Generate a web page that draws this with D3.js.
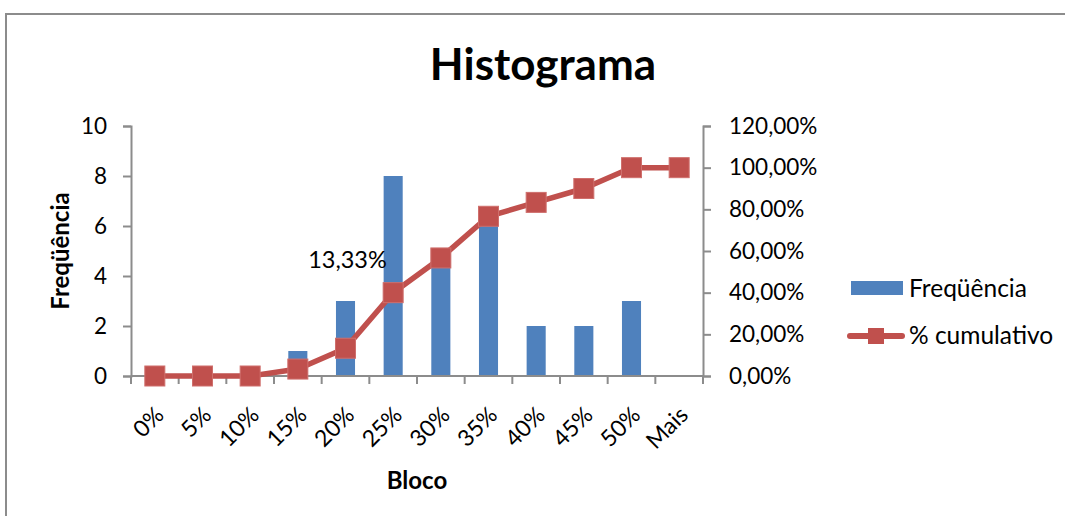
<!DOCTYPE html>
<html>
<head>
<meta charset="utf-8">
<script src="https://cdn.jsdelivr.net/npm/d3@7"></script>
<style>
  html, body { margin: 0; padding: 0; background: #fff; }
  svg { display: block; }
  text { font-family: Lato, "Open Sans", sans-serif; fill: #000; }
</style>
</head>
<body>
<svg id="chart" width="1065" height="516"></svg>
<script>
// Histogram data: bins, frequency per bin, cumulative percentage
const categories = ["0%", "5%", "10%", "15%", "20%", "25%", "30%", "35%", "40%", "45%", "50%", "Mais"];
const frequencies = [0, 0, 0, 1, 3, 8, 5, 6, 2, 2, 3, 0];
const cumulative = [0, 0, 0, 3.33, 13.33, 40.00, 56.67, 76.67, 83.33, 90.00, 100.00, 100.00];
const leftTicks = [0, 2, 4, 6, 8, 10];
const rightTicks = [0, 20, 40, 60, 80, 100, 120];
const labelledIndex = 4; // bin whose cumulative value is labelled

const svg = d3.select("#chart");
const W = 1065, H = 516;
const plot = { left: 131, right: 703, top: 126, bottom: 376 };

const barColor = "#4F81BD";
const lineColor = "#C0504D";
const axisColor = "#8C8C8C";

const fmtPct = v => d3.format(".2f")(v).replace(".", ",") + "%";

// Outer chart frame
svg.append("rect")
  .attr("x", 6).attr("y", 14)
  .attr("width", W + 20).attr("height", H + 20)
  .attr("fill", "#fff")
  .attr("stroke", axisColor).attr("stroke-width", 2);

// Scales
const x = d3.scaleBand().domain(categories).range([plot.left, plot.right]).padding(0);
const y = d3.scaleLinear().domain([0, 10]).range([plot.bottom, plot.top]);
const y2 = d3.scaleLinear().domain([0, 120]).range([plot.bottom, plot.top]);
const barW = x.bandwidth() * 0.4;
const cx = c => x(c) + x.bandwidth() / 2;

// Title
svg.append("text")
  .attr("x", 543).attr("y", 80)
  .attr("text-anchor", "middle")
  .style("font-size", "44px").style("font-weight", "bold")
  .text("Histograma");

// Bars
svg.append("g").selectAll("rect")
  .data(categories)
  .join("rect")
  .attr("x", (c) => cx(c) - barW / 2)
  .attr("y", (c, i) => y(frequencies[i]))
  .attr("width", barW)
  .attr("height", (c, i) => plot.bottom - y(frequencies[i]))
  .attr("fill", barColor);

// Left axis
const gL = svg.append("g")
  .attr("transform", `translate(${plot.left},0)`)
  .call(d3.axisLeft(y).tickValues(leftTicks).tickSize(8).tickPadding(16).tickFormat(d3.format("d")));
// Right axis
const gR = svg.append("g")
  .attr("transform", `translate(${plot.right},0)`)
  .call(d3.axisRight(y2).tickValues(rightTicks).tickSize(8).tickPadding(18).tickFormat(fmtPct));

[gL, gR].forEach(g => {
  g.select(".domain").attr("stroke", axisColor).attr("stroke-width", 2);
  g.selectAll(".tick line").attr("stroke", axisColor).attr("stroke-width", 2);
  g.selectAll(".tick text").style("font-size", "22.5px").attr("fill", "#000")
    .style("font-family", "Lato, sans-serif");
});

// Category axis: baseline, boundary ticks, rotated labels
const gX = svg.append("g");
gX.append("line")
  .attr("x1", plot.left).attr("x2", plot.right)
  .attr("y1", plot.bottom).attr("y2", plot.bottom)
  .attr("stroke", axisColor).attr("stroke-width", 2);
const bounds = categories.map(c => x(c)).concat([x(categories[categories.length - 1]) + x.bandwidth()]);
gX.selectAll("line.tk")
  .data(bounds)
  .join("line")
  .attr("class", "tk")
  .attr("x1", d => d).attr("x2", d => d)
  .attr("y1", plot.bottom).attr("y2", plot.bottom + 8)
  .attr("stroke", axisColor).attr("stroke-width", 2);
gX.selectAll("text")
  .data(categories)
  .join("text")
  .attr("transform", c => `translate(${cx(c) - 1},${plot.bottom + 29}) rotate(-45)`)
  .attr("text-anchor", "end")
  .attr("dy", "0.7em")
  .style("font-size", "23px")
  .text(c => c);

// Axis titles
svg.append("text")
  .attr("transform", `translate(69,${(plot.top + plot.bottom) / 2}) rotate(-90)`)
  .attr("text-anchor", "middle")
  .style("font-size", "24px").style("font-weight", "bold")
  .text("Freqüência");
svg.append("text")
  .attr("x", (plot.left + plot.right) / 2).attr("y", 489)
  .attr("text-anchor", "middle")
  .style("font-size", "24px").style("font-weight", "bold")
  .text("Bloco");

// Cumulative line with square markers
const line = d3.line()
  .x((d, i) => cx(categories[i]))
  .y(d => y2(d));
svg.append("path")
  .datum(cumulative)
  .attr("d", line)
  .attr("fill", "none")
  .attr("stroke", lineColor).attr("stroke-width", 5.5)
  .attr("stroke-linejoin", "round");
const mk = 20;
svg.append("g").selectAll("rect")
  .data(cumulative)
  .join("rect")
  .attr("x", (d, i) => cx(categories[i]) - mk / 2)
  .attr("y", d => y2(d) - mk / 2)
  .attr("width", mk).attr("height", mk)
  .attr("fill", lineColor)
  .attr("stroke", "#CF6F6C").attr("stroke-width", 1);

// Data label for one cumulative point
svg.append("text")
  .attr("x", cx(categories[labelledIndex]) + 2)
  .attr("y", y2(cumulative[labelledIndex]) - 80)
  .attr("text-anchor", "middle")
  .style("font-size", "23.5px")
  .text(fmtPct(cumulative[labelledIndex]));

// Legend
const lg = svg.append("g");
lg.append("rect")
  .attr("x", 851).attr("y", 281).attr("width", 52).attr("height", 14)
  .attr("fill", barColor);
lg.append("text")
  .attr("x", 909).attr("y", 297)
  .style("font-size", "24.5px")
  .text("Freqüência");
lg.append("line")
  .attr("x1", 850).attr("x2", 902).attr("y1", 336).attr("y2", 336)
  .attr("stroke", lineColor).attr("stroke-width", 6).attr("stroke-linecap", "round");
lg.append("rect")
  .attr("x", 868).attr("y", 328).attr("width", 16).attr("height", 16)
  .attr("fill", lineColor);
lg.append("text")
  .attr("x", 909).attr("y", 344)
  .style("font-size", "24.5px")
  .text("% cumulativo");
</script>
</body>
</html>
